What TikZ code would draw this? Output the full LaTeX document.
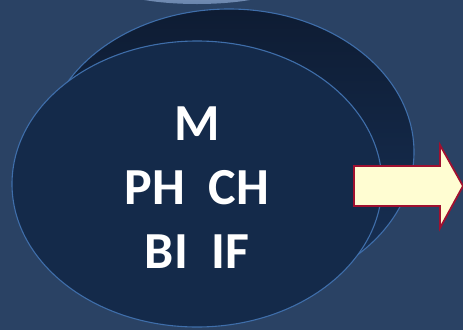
\documentclass[tikz,border=0pt]{standalone}
\usepackage{fontspec}
\setmainfont{Carlito}
\definecolor{bg}{HTML}{2A4264}
\definecolor{frontfill}{HTML}{142A4A}
\definecolor{backtop}{HTML}{0E1C33}
\definecolor{backbot}{HTML}{183258}
\definecolor{rim}{HTML}{3F6EAA}
\definecolor{arrowfill}{HTML}{FFFDD2}
\definecolor{arrowline}{HTML}{A01030}
\definecolor{glowa}{HTML}{A4B8D4}
\definecolor{glowb}{HTML}{6A85AD}
\tikzset{
  rimline/.style={draw=rim, line width=1.1pt},
  label/.style={text=white, font=\bfseries\fontsize{52}{64}\selectfont, align=center, inner sep=0pt},
}
\begin{document}
\begin{tikzpicture}[x=1pt,y=-1pt]
\useasboundingbox (0,0) rectangle (463,330);
\fill[bg] (0,0) rectangle (463,330);
\begin{scope}
\clip (0,0) rectangle (463,330);
% light ellipse at the top edge
\shade[top color=glowa, bottom color=glowb] (197,-16) ellipse [x radius=88, y radius=20];
% back ellipse
\shade[top color=backtop, bottom color=backbot, rimline] (229,152) ellipse [x radius=185, y radius=143];
% front ellipse
\fill[frontfill] (197,184) ellipse [x radius=185, y radius=143];
\draw[rimline] (197,184) ellipse [x radius=185, y radius=143];
% arrow
\draw[fill=arrowfill, draw=arrowline, line width=1.8pt, line join=miter]
  (354,166) -- (440,166) -- (440,145) -- (463,186) -- (440,228) -- (440,206) -- (354,206) -- cycle;
\end{scope}
\node[label, anchor=base] (m) at (197,140) {M};
\node[label, anchor=base] (ph) at (197,204) {PH\ \ CH};
\node[label, anchor=base] (bi) at (197,268) {BI\ \ IF};
\end{tikzpicture}
\end{document}
